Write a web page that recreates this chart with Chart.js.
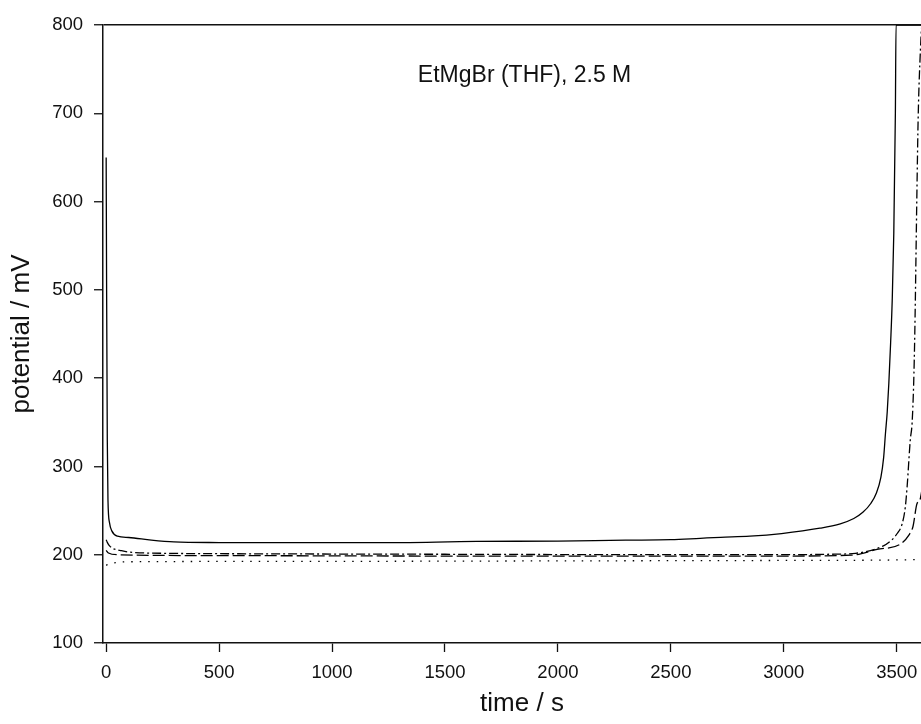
<!DOCTYPE html>
<html>
<head>
<meta charset="utf-8">
<script src="https://cdn.jsdelivr.net/npm/chart.js@4/dist/chart.umd.min.js"></script>
<style>
  html, body { margin: 0; padding: 0; background: #fff; overflow: hidden; }
  #wrap { width: 960px; height: 724px; }
</style>
</head>
<body>
<div id="wrap"><canvas id="chart" width="960" height="724"></canvas></div>
<script>
// Galvanostatic traces, EtMgBr (THF) 2.5 M

const xTicks = [0, 500, 1000, 1500, 2000, 2500, 3000, 3500];
const yTicks = [100, 200, 300, 400, 500, 600, 700, 800];

// curve A (solid)
const timeA = [0, 2, 5, 8, 15, 25, 50, 100, 200, 300, 500, 800, 1200, 1640, 2000, 2300, 2500, 2630, 2720, 2850, 2990, 3160, 3250, 3310, 3350, 3385, 3410, 3430, 3442, 3450, 3458, 3465, 3473, 3480, 3487, 3494, 3497, 3700];
const potA  = [650, 500, 330, 262, 236, 227, 221, 219.5, 216.5, 214.5, 213.8, 213.6, 213.6, 215, 215.5, 216.5, 217, 218.6, 219.7, 221, 224, 230, 235, 241, 248, 258, 270, 288, 310, 337, 362, 394, 440, 488, 564, 700, 800, 800];

// curve B (dash-dot)
const timeB = [0, 5, 15, 30, 60, 100, 300, 700, 1500, 2500, 3000, 3200, 3317, 3441, 3479, 3502, 3524, 3538, 3546, 3560, 3568, 3575, 3580, 3590, 3595, 3605, 3612, 3700];
const potB  = [217, 214, 210, 207, 205, 203, 201.5, 201, 200.5, 200, 200, 200.5, 201.6, 210, 217, 224, 235, 254, 277, 330, 349, 394, 451, 621, 696, 772, 800, 800];

// curve C (dashed)
const timeC = [0, 10, 50, 500, 1500, 2500, 3000, 3300, 3413, 3516, 3553, 3572, 3590, 3605, 3625, 3650];
const potC  = [205, 202, 200, 199, 198.5, 198.5, 198.5, 199.5, 206, 212, 222, 232, 258, 264, 320, 500];

// curve D (dotted)
const timeD = [0, 20, 100, 1000, 2000, 3000, 3600, 3700];
const potD  = [188, 190, 192, 192.5, 193, 193.5, 194.5, 196];

const annotText = 'EtMgBr (THF), 2.5 M';
const annotX = 1380;
const annotY = 743;

function toPoints(xs, ys) {
    return xs.map((x, i) => ({ x: x, y: ys[i] }));
}

function makeSet(xs, ys, dash) {
    return {
        data: toPoints(xs, ys),
        borderColor: '#000',
        borderWidth: 1.3,
        borderDash: dash,
        pointRadius: 0,
        cubicInterpolationMode: 'monotone',
        fill: false
    };
}

const annotPlugin = {
    id: 'annot',
    afterDatasetsDraw(chart) {
        const ctx = chart.ctx;
        const px = chart.scales.x.getPixelForValue(annotX);
        const py = chart.scales.y.getPixelForValue(annotY);
        ctx.save();
        ctx.fillStyle = '#111';
        ctx.font = '23px "Liberation Sans", Arial, sans-serif';
        ctx.textBaseline = 'middle';
        ctx.textAlign = 'left';
        ctx.fillText(annotText, px, py);
        ctx.restore();
    }
};

const tickFont = { family: '"Liberation Sans", Arial, sans-serif', size: 18.5 };
const titleFont = { family: '"Liberation Sans", Arial, sans-serif', size: 26 };

new Chart(document.getElementById('chart').getContext('2d'), {
    type: 'line',
    data: {
        datasets: [
            makeSet(timeA, potA, []),
            makeSet(timeB, potB, [9, 3, 2, 3]),
            makeSet(timeC, potC, [12, 4]),
            makeSet(timeD, potD, [1.5, 7])
        ]
    },
    options: {
        responsive: false,
        animation: false,
        devicePixelRatio: 1,
        layout: { padding: { left: 0, top: 25, right: 19, bottom: 0 } },
        plugins: {
            legend: { display: false },
            tooltip: { enabled: false }
        },
        scales: {
            x: {
                type: 'linear',
                min: -14,
                max: 3696,
                afterBuildTicks: (scale) => { scale.ticks = xTicks.map(v => ({ value: v })); },
                afterFit: (scale) => { scale.height = 81; },
                grid: {
                    drawOnChartArea: false,
                    tickColor: '#111',
                    tickLength: 9,
                    tickWidth: 1.3
                },
                border: { color: '#111', width: 1.5 },
                ticks: {
                    color: '#111',
                    font: tickFont,
                    padding: 10,
                    maxRotation: 0,
                    callback: (v) => String(v)
                },
                title: {
                    display: true,
                    text: 'time / s',
                    color: '#111',
                    font: titleFont,
                    padding: { top: 0, bottom: 5 }
                }
            },
            y: {
                type: 'linear',
                min: 100,
                max: 800,
                afterBuildTicks: (scale) => { scale.ticks = yTicks.map(v => ({ value: v })); },
                afterFit: (scale) => { scale.width = 103; },
                grid: {
                    color: (c) => (c.tick && c.tick.value === 800 ? '#111' : 'rgba(0,0,0,0)'),
                    lineWidth: 1.5,
                    tickColor: '#111',
                    tickLength: 9,
                    tickWidth: 1.3
                },
                border: { color: '#111', width: 1.5 },
                ticks: {
                    color: '#111',
                    font: tickFont,
                    padding: 11,
                    callback: (v) => String(v)
                },
                title: {
                    display: true,
                    text: 'potential / mV',
                    color: '#111',
                    font: titleFont,
                    padding: { top: 6, bottom: 0 }
                }
            }
        }
    },
    plugins: [annotPlugin]
});
</script>
</body>
</html>
